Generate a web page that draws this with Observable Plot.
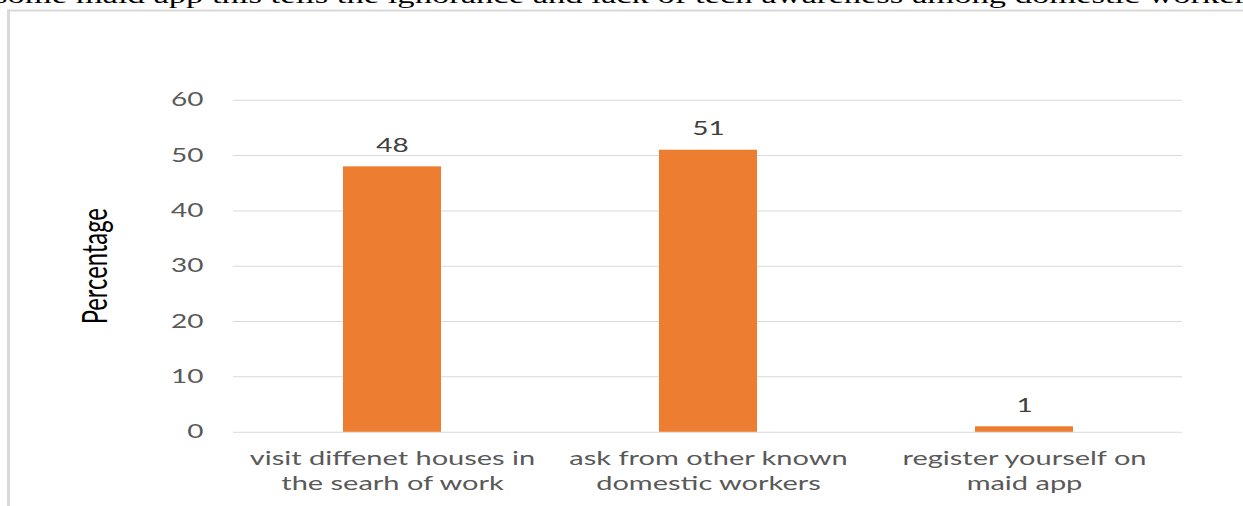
<!DOCTYPE html>
<html><head><meta charset="utf-8">
<script src="https://cdn.jsdelivr.net/npm/d3@7"></script>
<script src="https://cdn.jsdelivr.net/npm/@observablehq/plot@0.6"></script>
<style>
html,body{margin:0;padding:0;background:#fff;overflow:hidden;width:1243px;height:506px;}
#stage{position:absolute;left:0;top:0;width:1243px;height:744px;transform:scaleY(0.68);transform-origin:0 0;}
#title{position:absolute;left:-6px;top:-24px;font-family:"Liberation Serif",serif;font-size:34.6px;line-height:34px;white-space:nowrap;color:#000;}
#frame{position:absolute;left:7px;top:14px;width:1300px;height:800px;border-left:3px solid #d9d9d9;border-top:3px solid #d9d9d9;}
#chart{position:absolute;left:0;top:0;}
</style></head>
<body><div id="stage"><div id="title"></div><div id="frame"></div><div id="chart"></div></div>
<script>
const titleText = "some maid app this tells the ignorance and lack of tech awareness among domestic worker";
const categories = ["visit diffenet houses in the searh of work", "ask from other known domestic workers", "register yourself on maid app"];
const labelLines = [["visit diffenet houses in", "the searh of work"], ["ask from other known", "domestic workers"], ["register yourself on", "maid app"]];
const values = [48, 51, 1];
const yTicks = [0, 10, 20, 30, 40, 50, 60];
const yLabel = "Percentage";

document.getElementById("title").textContent = titleText;

const data = categories.map((c, i) => ({category: c, label: labelLines[i].join("\n"), value: values[i]}));

const chart = Plot.plot({
  width: 1243, height: 744,
  marginTop: 147, marginBottom: 109, marginLeft: 233, marginRight: 61,
  style: {fontFamily: "Lato", background: "transparent"},
  x: {domain: categories, paddingInner: 0.69, paddingOuter: 0.345, axis: null},
  y: {domain: [0, 60], axis: null},
  marks: [
    Plot.gridY(yTicks, {stroke: "#d9d9d9", strokeOpacity: 1, strokeWidth: 1.5}),
    Plot.axisY(yTicks, {tickSize: 0, tickPadding: 30, fontSize: 28, color: "#595959", label: null}),
    Plot.barY(data, {x: "category", y: "value", fill: "#ED7D31"}),
    Plot.text(data, {x: "category", y: "value", text: d => String(d.value), dy: -22, lineAnchor: "bottom", fontSize: 28, fill: "#404040"}),
    Plot.text(data, {x: "category", y: d => 0, text: "label", dy: 22, lineAnchor: "top", lineHeight: 1.27, fontSize: 29, fill: "#595959"}),
    Plot.text([yLabel], {frameAnchor: "left", dx: -138, rotate: -90, textAnchor: "middle", fontSize: 35, fill: "#000"})
  ]
});
document.getElementById("chart").appendChild(chart);
</script>
</body></html>
